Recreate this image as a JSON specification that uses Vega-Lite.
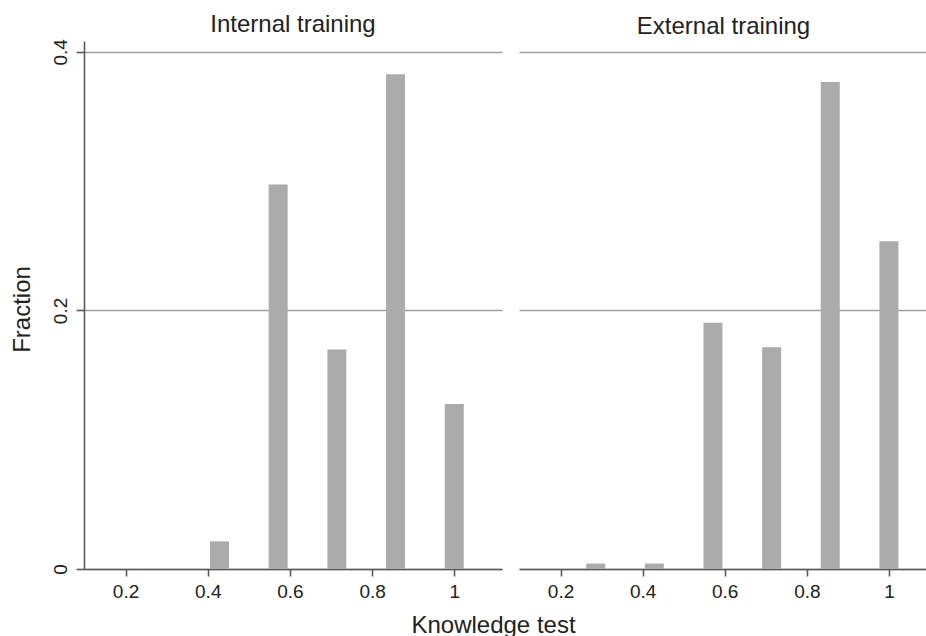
{
  "$schema": "https://vega.github.io/schema/vega-lite/v6.json",
  "padding": {"left": 10, "top": 12, "right": 0, "bottom": 0},
  "background": "white",
  "config": {
    "font": "Liberation Sans",
    "view": {"stroke": null},
    "axis": {
      "labelFont": "Liberation Sans",
      "labelFontSize": 19,
      "labelColor": "#222222",
      "titleFont": "Liberation Sans",
      "titleFontSize": 24,
      "titleFontWeight": "normal",
      "titleColor": "#222222",
      "domainColor": "#5a5a5a",
      "domainWidth": 1.6,
      "tickColor": "#5a5a5a",
      "tickWidth": 1.6,
      "gridColor": "#9e9e9e",
      "gridWidth": 1.6,
      "format": "~g"
    },
    "title": {"font": "Liberation Sans", "fontSize": 24, "fontWeight": "normal", "color": "#222222"}
  },
  "data": {
    "values": [
      {"group": "Internal training", "score": 0.4286, "fraction": 0.0214},
      {"group": "Internal training", "score": 0.5714, "fraction": 0.2975},
      {"group": "Internal training", "score": 0.7143, "fraction": 0.1698},
      {"group": "Internal training", "score": 0.8571, "fraction": 0.3827},
      {"group": "Internal training", "score": 1.0, "fraction": 0.1277},
      {"group": "External training", "score": 0.2857, "fraction": 0.0042},
      {"group": "External training", "score": 0.4286, "fraction": 0.0042},
      {"group": "External training", "score": 0.5714, "fraction": 0.1904},
      {"group": "External training", "score": 0.7143, "fraction": 0.1716},
      {"group": "External training", "score": 0.8571, "fraction": 0.3767},
      {"group": "External training", "score": 1.0, "fraction": 0.2536}
    ]
  },
  "bounds": "flush",
  "spacing": 17,
  "hconcat": [
    {
      "width": 418,
      "height": 528,
      "title": {"text": "Internal training", "baseline": "alphabetic", "offset": -17, "frame": "group", "anchor": "middle"},
      "transform": [{"filter": "datum.group === 'Internal training'"}],
      "mark": {"type": "bar", "size": 19, "color": "#ababab"},
      "encoding": {
        "x": {
          "field": "score", "type": "quantitative",
          "scale": {"domain": [0.111, 1.104], "nice": false, "zero": false},
          "axis": {
            "values": [0.2, 0.4, 0.6, 0.8, 1],
            "grid": false, "tickSize": 7, "labelPadding": 6,
            "title": "Knowledge test", "titleX": 409, "titleY": 63,
            "titleAlign": "center", "titleBaseline": "alphabetic"
          }
        },
        "y": {
          "field": "fraction", "type": "quantitative",
          "scale": {"domain": [0, 0.4084], "nice": false},
          "axis": {
            "values": [0, 0.2, 0.4],
            "grid": true, "tickSize": 8, "labelPadding": 10,
            "labelAngle": 270, "labelAlign": "center", "labelBaseline": "alphabetic",
            "title": "Fraction", "titleAngle": 270, "titleX": -55, "titleY": 268,
            "titleAlign": "center", "titleBaseline": "alphabetic"
          }
        }
      }
    },
    {
      "width": 409,
      "height": 528,
      "title": {"text": "External training", "baseline": "alphabetic", "offset": -17, "frame": "group", "anchor": "middle"},
      "transform": [{"filter": "datum.group === 'External training'"}],
      "mark": {"type": "bar", "size": 19, "color": "#ababab"},
      "encoding": {
        "x": {
          "field": "score", "type": "quantitative",
          "scale": {"domain": [0.111, 1.083], "nice": false, "zero": false},
          "axis": {
            "values": [0.2, 0.4, 0.6, 0.8, 1],
            "grid": false, "tickSize": 7, "labelPadding": 6, "title": null
          }
        },
        "y": {
          "field": "fraction", "type": "quantitative",
          "scale": {"domain": [0, 0.4084], "nice": false},
          "axis": {
            "values": [0, 0.2, 0.4],
            "grid": true, "ticks": false, "labels": false, "domain": false, "title": null
          }
        }
      }
    }
  ]
}
